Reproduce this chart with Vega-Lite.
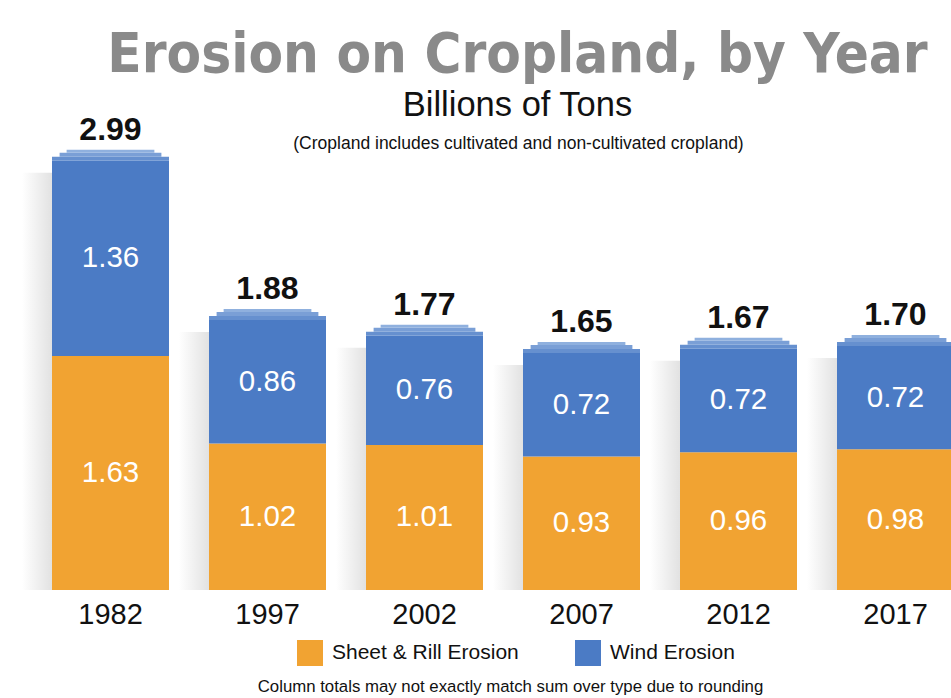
{
  "$schema": "https://vega.github.io/schema/vega-lite/v6.json",
  "width": 951,
  "height": 590,
  "autosize": {"type": "none"},
  "padding": {"top": 0, "left": 0, "right": 0, "bottom": 108},
  "background": "white",
  "config": {"view": {"stroke": null}, "font": "Liberation Sans"},
  "title": {
    "text": "Erosion on Cropland, by Year",
    "subtitle": "Billions of Tons",
    "anchor": "middle",
    "frame": "group",
    "orient": "top",
    "offset": -123,
    "dx": 42,
    "font": "DejaVu Sans Condensed, sans-serif",
    "fontSize": 56,
    "fontWeight": "bold",
    "color": "#8a8a8a",
    "subtitleFont": "Liberation Sans",
    "subtitleFontSize": 34.5,
    "subtitleColor": "#111111",
    "subtitlePadding": 5
  },
  "data": {
    "values": [
      {"year": "1982", "type": "Sheet & Rill Erosion", "value": 1.63, "total": 2.99},
      {"year": "1982", "type": "Wind Erosion", "value": 1.36, "total": 2.99},
      {"year": "1997", "type": "Sheet & Rill Erosion", "value": 1.02, "total": 1.88},
      {"year": "1997", "type": "Wind Erosion", "value": 0.86, "total": 1.88},
      {"year": "2002", "type": "Sheet & Rill Erosion", "value": 1.01, "total": 1.77},
      {"year": "2002", "type": "Wind Erosion", "value": 0.76, "total": 1.77},
      {"year": "2007", "type": "Sheet & Rill Erosion", "value": 0.93, "total": 1.65},
      {"year": "2007", "type": "Wind Erosion", "value": 0.72, "total": 1.65},
      {"year": "2012", "type": "Sheet & Rill Erosion", "value": 0.96, "total": 1.67},
      {"year": "2012", "type": "Wind Erosion", "value": 0.72, "total": 1.67},
      {"year": "2017", "type": "Sheet & Rill Erosion", "value": 0.98, "total": 1.70},
      {"year": "2017", "type": "Wind Erosion", "value": 0.72, "total": 1.70}
    ]
  },
  "layer": [
    {
      "transform": [{"aggregate": [{"op": "sum", "field": "value", "as": "top"}], "groupby": ["year"]}],
      "mark": {
        "type": "bar",
        "width": 30,
        "xOffset": -73.5,
        "yOffset": 12,
        "opacity": 0.65,
        "color": {"gradient": "linear", "x1": 0, "y1": 0, "x2": 1, "y2": 0,
          "stops": [{"offset": 0, "color": "#ffffff"}, {"offset": 1, "color": "#d2d2d2"}]}
      },
      "encoding": {
        "x": {"field": "year", "type": "nominal", "scale": {"domain": ["1982", "1997", "2002", "2007", "2012", "2017"], "range": [52, 954], "paddingInner": 0.2548, "paddingOuter": 0}, "axis": null},
        "y": {"field": "top", "type": "quantitative", "scale": {"domain": [0, 4.109], "nice": false}, "axis": null},
        "y2": {"datum": 0}
      }
    },
    {
      "transform": [{"stack": "value", "groupby": ["year"], "sort": [{"field": "type", "order": "ascending"}], "as": ["v0", "v1"]}],
      "mark": {"type": "bar"},
      "encoding": {
        "x": {
          "field": "year", "type": "nominal",
          "axis": {
            "orient": "bottom",
            "title": "Column totals may not exactly match sum over type due to rounding",
            "titleX": 510, "titleY": 101, "titleBaseline": "alphabetic", "titleAlign": "center",
            "titleFontSize": 16.8, "titleFontWeight": "normal", "titleColor": "#111111",
            "labelFontSize": 29, "labelColor": "#111111", "labelPadding": 10, "labelAngle": 0,
            "ticks": false, "domain": false, "grid": false
          }
        },
        "y": {"field": "v1", "type": "quantitative", "axis": null},
        "y2": {"field": "v0"},
        "color": {
          "field": "type", "type": "nominal",
          "scale": {"domain": ["Sheet & Rill Erosion", "Wind Erosion"], "range": ["#f1a332", "#4b7bc5"]},
          "legend": {
            "orient": "none", "legendX": 297, "legendY": 640, "direction": "horizontal", "title": null,
            "symbolType": "square", "symbolSize": 676, "symbolStrokeWidth": 0, "symbolOpacity": 1,
            "labelFontSize": 21, "labelColor": "#111111", "labelOffset": 9, "columnPadding": 56,
            "padding": 0, "labelLimit": 400
          }
        }
      }
    },
    {
      "transform": [{"aggregate": [{"op": "sum", "field": "value", "as": "top"}], "groupby": ["year"]}],
      "mark": {"type": "bar", "color": "#6690cf", "yOffset": -4},
      "encoding": {
        "x": {"field": "year", "type": "nominal", "axis": null},
        "y": {"field": "top", "type": "quantitative", "axis": null},
        "y2": {"field": "top"}
      }
    },
    {
      "transform": [{"aggregate": [{"op": "sum", "field": "value", "as": "top"}], "groupby": ["year"]}],
      "mark": {"type": "bar", "color": "#7a9fd6", "yOffset": -8, "y2Offset": -4, "width": {"band": 0.87}},
      "encoding": {
        "x": {"field": "year", "type": "nominal", "axis": null},
        "y": {"field": "top", "type": "quantitative", "axis": null},
        "y2": {"field": "top"}
      }
    },
    {
      "transform": [{"aggregate": [{"op": "sum", "field": "value", "as": "top"}], "groupby": ["year"]}],
      "mark": {"type": "bar", "color": "#8fb0de", "yOffset": -11, "y2Offset": -8, "width": {"band": 0.75}},
      "encoding": {
        "x": {"field": "year", "type": "nominal", "axis": null},
        "y": {"field": "top", "type": "quantitative", "axis": null},
        "y2": {"field": "top"}
      }
    },
    {
      "transform": [
        {"stack": "value", "groupby": ["year"], "sort": [{"field": "type", "order": "ascending"}], "as": ["v0", "v1"]},
        {"calculate": "(datum.v0 + datum.v1) / 2", "as": "mid"}
      ],
      "mark": {"type": "text", "color": "white", "fontSize": 29.5, "baseline": "middle", "align": "center"},
      "encoding": {
        "x": {"field": "year", "type": "nominal", "axis": null},
        "y": {"field": "mid", "type": "quantitative", "axis": null},
        "text": {"field": "value", "type": "quantitative", "format": ".2f"}
      }
    },
    {
      "transform": [{"aggregate": [{"op": "sum", "field": "value", "as": "top"}, {"op": "max", "field": "total", "as": "total"}], "groupby": ["year"]}],
      "mark": {"type": "text", "color": "#111111", "fontSize": 32, "fontWeight": "bold", "baseline": "alphabetic", "align": "center", "dy": -21},
      "encoding": {
        "x": {
          "field": "year", "type": "nominal",
          "axis": {
            "orient": "top",
            "title": "(Cropland includes cultivated and non-cultivated cropland)",
            "titleX": 518, "titleY": 148, "titleBaseline": "alphabetic", "titleAlign": "center",
            "titleFontSize": 17.5, "titleFontWeight": "normal", "titleColor": "#111111",
            "labels": false, "ticks": false, "domain": false, "grid": false
          }
        },
        "y": {"field": "top", "type": "quantitative", "axis": null},
        "text": {"field": "total", "type": "quantitative", "format": ".2f"}
      }
    }
  ],
  "resolve": {"axis": {"x": "independent"}}
}
